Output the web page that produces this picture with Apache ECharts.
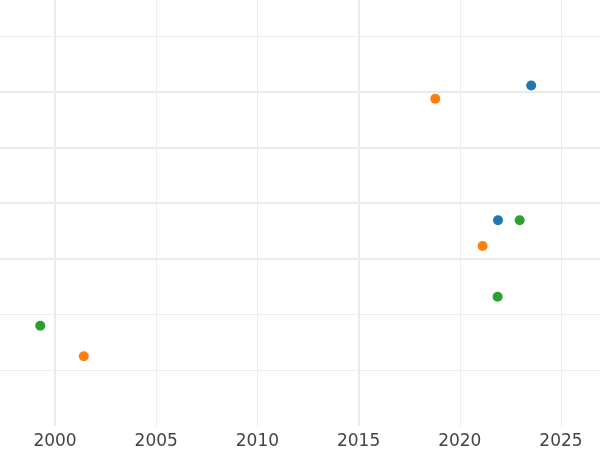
<!DOCTYPE html>
<html>
<head>
<meta charset="utf-8">
<script src="https://cdn.jsdelivr.net/npm/echarts@6/dist/echarts.min.js"></script>
<style>html,body{margin:0;padding:0;background:#fff}#c{width:600px;height:450px}</style>
</head>
<body>
<div id="c"></div>
<script>
const blueX = [2023.53, 2021.89];
const blueY = [6.11, 3.69];
const orangeX = [2018.79, 2021.13, 2001.42];
const orangeY = [5.87, 3.23, 1.25];
const greenX = [2022.96, 2021.87, 1999.27];
const greenY = [3.69, 2.32, 1.80];
const majorX = [2000, 2015];
const majorY = [3, 4, 5, 6];

const pairs = (xs, ys) => xs.map((x, i) => [x, ys[i]]);
const chart = echarts.init(document.getElementById('c'), null, {renderer: 'canvas'});
const thick = {color: '#ebebeb', width: 2, type: 'solid'};
chart.setOption({
  animation: false,
  backgroundColor: '#ffffff',
  grid: {left: 0, right: 0, top: 0, bottom: 22, containLabel: false},
  xAxis: {
    type: 'value', min: 1997.28, max: 2026.93, splitNumber: 6,
    axisLine: {show: false}, axisTick: {show: false},
    axisLabel: {show: true, showMinLabel: false, showMaxLabel: false, margin: 7,
      fontFamily: 'DejaVu Sans', fontSize: 17, color: '#444444',
      formatter: v => String(Math.round(v))},
    splitLine: {show: true, showMinLine: false, showMaxLine: false, lineStyle: {color: '#eeeeee', width: 1}}
  },
  yAxis: {
    type: 'value', min: 0, max: 7.643, splitNumber: 7,
    axisLine: {show: false}, axisTick: {show: false}, axisLabel: {show: false},
    splitLine: {show: true, showMinLine: false, showMaxLine: false, lineStyle: {color: '#eeeeee', width: 1}}
  },
  series: [
    {type: 'scatter', data: pairs(blueX, blueY), symbolSize: 10, itemStyle: {color: '#1f77b4', opacity: 1}, z: 5,
     markLine: {silent: true, symbol: 'none', label: {show: false}, lineStyle: thick, animation: false,
       data: majorX.map(v => ({xAxis: v})).concat(majorY.map(v => ({yAxis: v})))}},
    {type: 'scatter', data: pairs(orangeX, orangeY), symbolSize: 10, itemStyle: {color: '#ff7f0e', opacity: 1}, z: 5},
    {type: 'scatter', data: pairs(greenX, greenY), symbolSize: 10, itemStyle: {color: '#2ca02c', opacity: 1}, z: 5}
  ]
});
</script>
</body>
</html>
